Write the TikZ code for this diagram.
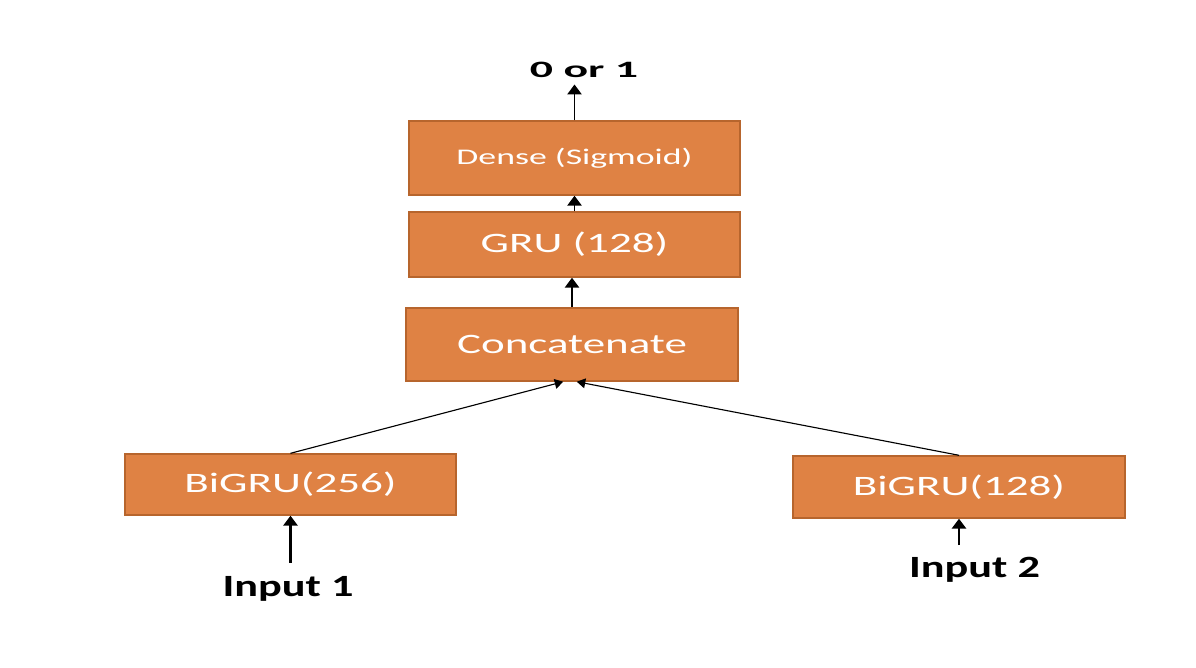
\documentclass[tikz,border=0pt]{standalone}
\usepackage{fontspec}
\setmainfont[FakeStretch=1.6]{Carlito}
\newfontfamily\inputfont[FakeStretch=1.43]{Carlito}
\newfontfamily\outfont[FakeStretch=1.95]{Carlito}
\usetikzlibrary{arrows.meta}
\definecolor{layerfill}{RGB}{223,130,68}
\definecolor{layerline}{RGB}{183,101,45}

\begin{document}
\begin{tikzpicture}[x=0.025cm,y=-0.025cm,
    >={Triangle[width=10pt,length=7pt]},
    layer/.style={draw=layerline,line width=1pt,fill=layerfill,text=white,
      minimum width=8.275cm,inner sep=0pt,font=\fontsize{20}{24}\selectfont},
    io/.style={inner sep=3pt}]
  \useasboundingbox (0,0) rectangle (1196,667);
  % layers
  \node[layer,minimum height=1.85cm,font=\fontsize{15.9}{19}\selectfont] (dense) at (574.5,158) {Dense (Sigmoid)};
  \node[layer,minimum height=1.625cm] (gru) at (574.5,244.5) {GRU (128)};
  \node[layer,minimum height=1.825cm,minimum width=8.3cm] (concat) at (572,344.5) {Concatenate};
  \node[layer,minimum height=1.525cm] (bigruA) at (290.5,484.5) {BiGRU(256)};
  \node[layer,minimum height=1.55cm,minimum width=8.3cm] (bigruB) at (959,487) {BiGRU(128)};
  % inputs and output
  \node[io,anchor=base,font=\outfont\bfseries\fontsize{16.7}{20}\selectfont] (out) at (584,77) {0 or 1};
  \node[io,anchor=base,font=\inputfont\bfseries\fontsize{22}{26}\selectfont] (inA) at (288,596) {Input 1};
  \node[io,anchor=base,font=\inputfont\bfseries\fontsize{22}{26}\selectfont] (inB) at (974.5,577) {Input 2};
  % arrows
  \draw[->,line width=1.4pt,shorten >=2pt] (dense.north) -- (dense.north |- out.south);
  \draw[->,line width=1.4pt] (gru.north) -- (dense.south);
  \draw[->,line width=1.4pt] (concat.north) -- (concat.north |- gru.south);
  \draw[->,line width=1.6pt,shorten <=6pt] (bigruA.south |- inA.north) -- (bigruA.south);
  \draw[->,line width=1.6pt,shorten <=5pt] (bigruB.south |- inB.north) -- (bigruB.south);
  \draw[-{Triangle[width=7pt,length=6pt]},line width=0.8pt] (bigruA.north) -- ([xshift=-0.22cm]concat.south);
  \draw[-{Triangle[width=7pt,length=6pt]},line width=0.8pt] (bigruB.north) -- ([xshift=0.12cm]concat.south);
\end{tikzpicture}
\end{document}
